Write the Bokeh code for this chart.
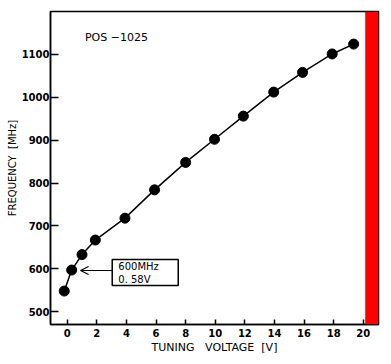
from bokeh.plotting import figure
from bokeh.models import Range1d, FixedTicker, BoxAnnotation, Arrow, OpenHead, Label
from bokeh.embed import file_html
from bokeh.resources import INLINE

voltage = [-0.2, 0.3, 1.0, 1.9, 3.9, 5.9, 8.0, 9.95, 11.9, 13.95, 15.9, 17.9, 19.35]
frequency = [548, 597, 633, 667, 718, 784, 848, 902, 956, 1012, 1058, 1101, 1124]
x_ticks = [0, 2, 4, 6, 8, 10, 12, 14, 16, 18, 20]
y_ticks = [500, 600, 700, 800, 900, 1000, 1100]
title_text = "POS\u00a0\u22121025"
note_lines = ["600MHz", "0.\u00a058V"]
x_label = "TUNING\u00a0\u00a0\u00a0VOLTAGE\u00a0\u00a0[V]"
y_label = "FREQUENCY\u00a0\u00a0[MHz]"

p = figure(width=386, height=356, output_backend="svg", toolbar_location=None,
           x_range=Range1d(-1.13, 21.03), y_range=Range1d(470, 1200),
           min_border_left=50, min_border_right=8, min_border_top=11, min_border_bottom=31)
p.background_fill_color = "white"
p.border_fill_color = "white"
p.outline_line_color = "black"
p.outline_line_width = 1.5
p.xgrid.visible = False
p.ygrid.visible = False

# red band at the right edge
p.add_layout(BoxAnnotation(left=20.15, fill_color="#ff0000", fill_alpha=1.0,
                           line_color="black", line_width=1))

p.line(voltage, frequency, line_color="black", line_width=1.5)
p.scatter(voltage, frequency, size=10, marker="circle", fill_color="black", line_color="black")

for ax in (p.xaxis[0], p.yaxis[0]):
    ax.axis_line_color = "black"
    ax.axis_line_width = 1.5
    ax.major_tick_line_color = "black"
    ax.major_tick_line_width = 1.5
    ax.major_tick_out = 0
    ax.minor_tick_in = 0
    ax.minor_tick_out = 0
    ax.major_label_text_font = "DejaVu Sans"
    ax.major_label_text_font_style = "bold"
    ax.major_label_text_font_size = "10px"
    ax.major_label_text_color = "black"
    ax.axis_label_text_font = "DejaVu Sans"
    ax.axis_label_text_font_style = "normal"
    ax.axis_label_text_color = "black"

p.xaxis[0].ticker = FixedTicker(ticks=x_ticks)
p.yaxis[0].ticker = FixedTicker(ticks=y_ticks)
p.xaxis[0].major_tick_in = 5
p.yaxis[0].major_tick_in = 8
p.xaxis[0].major_label_standoff = 4
p.yaxis[0].major_label_standoff = 1
p.xaxis[0].axis_label = x_label
p.yaxis[0].axis_label = y_label
p.xaxis[0].axis_label_text_font_size = "11px"
p.yaxis[0].axis_label_text_font_size = "10px"
p.xaxis[0].axis_label_standoff = 1
p.yaxis[0].axis_label_standoff = 1

p.add_layout(Label(x=1.2, y=1140, text=title_text, text_font="DejaVu Sans",
                   text_font_size="11px", text_baseline="middle", text_align="left",
                   text_color="black"))

# annotation box and arrow
p.quad(left=3.04, right=7.5, bottom=561, top=621.6, fill_color="white",
       line_color="black", line_width=1.5)
p.add_layout(Arrow(end=OpenHead(size=8, line_width=1.2, line_color="black"),
                   x_start=3.04, y_start=596, x_end=0.9, y_end=596,
                   line_width=1.2, line_color="black"))
p.add_layout(Label(x=3.45, y=606, text=note_lines[0], text_font="DejaVu Sans",
                   text_font_size="10px", text_baseline="middle", text_color="black"))
p.add_layout(Label(x=3.45, y=576, text=note_lines[1], text_font="DejaVu Sans",
                   text_font_size="10px", text_baseline="middle", text_color="black"))

open("out.html", "w").write(file_html(p, INLINE))
